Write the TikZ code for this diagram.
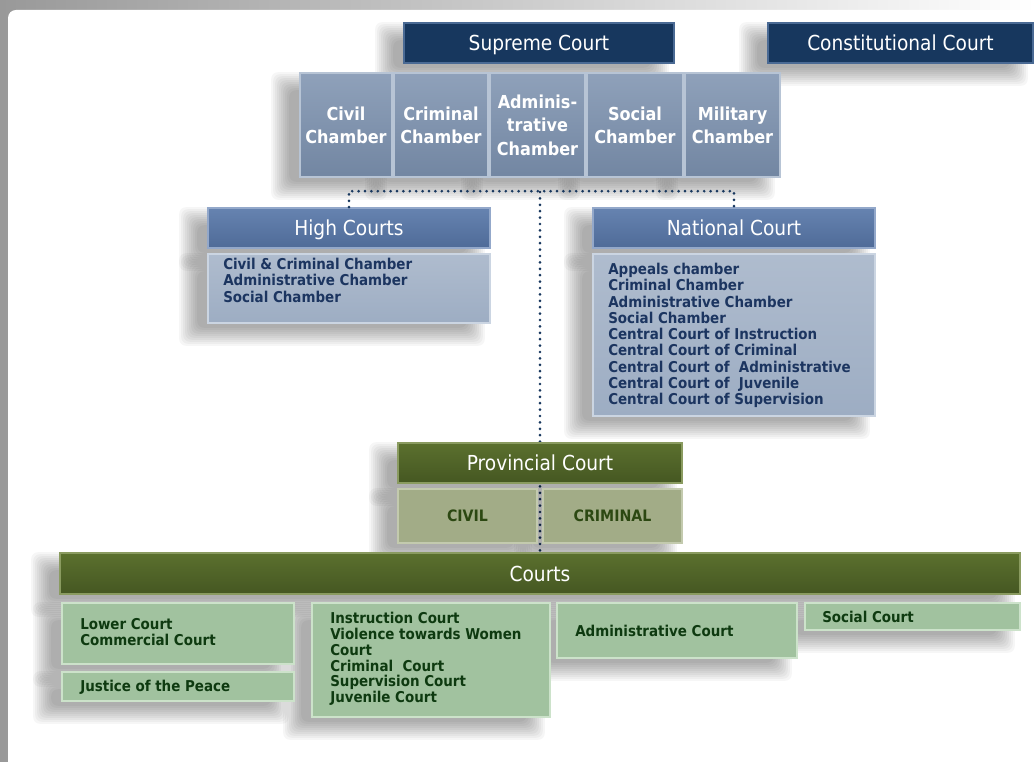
\documentclass[tikz,border=0pt]{standalone}
\usepackage{fontspec}
\setmainfont{DejaVu Sans Condensed}
\usetikzlibrary{calc}
\pgfdeclarelayer{pagebg}
\pgfdeclarelayer{shadow}
\pgfsetlayers{pagebg,shadow,main}
\definecolor{navy}{HTML}{17375E}
\definecolor{navyedge}{HTML}{4A6A94}
\definecolor{chtop}{HTML}{8FA1BA}
\definecolor{chbot}{HTML}{7286A2}
\definecolor{chedge}{HTML}{B7C4D5}
\definecolor{bhtop}{HTML}{6683B0}
\definecolor{bhbot}{HTML}{4F6B98}
\definecolor{bhedge}{HTML}{93A8CA}
\definecolor{bbtop}{HTML}{AFBCCE}
\definecolor{bbbot}{HTML}{9DADC3}
\definecolor{bbedge}{HTML}{CBD5E2}
\definecolor{bodynavy}{HTML}{1C3560}
\definecolor{olhtop}{HTML}{5B702E}
\definecolor{olhbot}{HTML}{455722}
\definecolor{olhedge}{HTML}{8A9B60}
\definecolor{olbody}{HTML}{A2AC87}
\definecolor{olbedge}{HTML}{C3CAAE}
\definecolor{oltext}{HTML}{2C4812}
\definecolor{grbody}{HTML}{A1C29F}
\definecolor{grbedge}{HTML}{CCE2CA}
\definecolor{grtext}{HTML}{0E3A10}
\tikzset{
  bx/.style args={#1/#2/#3/#4}{minimum width={(#3-#1)*0.75pt}, minimum height={(#4-#2)*0.75pt}, at={({(#1+#3)/2},{(#2+#4)/2})}},
  boxbase/.style={rectangle, inner sep=0pt, line width=1.2pt},
  topbox/.style={boxbase, fill=navy, draw=navyedge, text=white, text depth=0pt, font=\fontsize{15.5}{18}\selectfont},
  chamberbox/.style={boxbase, top color=chtop, bottom color=chbot, draw=chedge, text=white, align=center, text depth=0pt, font=\bfseries\fontsize{13.4}{17.5}\selectfont},
  bluehead/.style={boxbase, top color=bhtop, bottom color=bhbot, draw=bhedge, text=white, text depth=0pt, font=\fontsize{15.5}{18}\selectfont},
  bluebody/.style={boxbase, top color=bbtop, bottom color=bbbot, draw=bbedge},
  olivehead/.style={boxbase, top color=olhtop, bottom color=olhbot, draw=olhedge, text=white, text depth=0pt, font=\fontsize{15.5}{18}\selectfont},
  olivebody/.style={boxbase, fill=olbody, draw=olbedge, text=oltext, font=\bfseries\fontsize{11.8}{14}\selectfont},
  greenbody/.style={boxbase, fill=grbody, draw=grbedge},
  navytext/.style={anchor=north west, inner sep=0pt, align=left, text=bodynavy, font=\bfseries\fontsize{11.2}{12.2}\selectfont},
  greentext/.style={anchor=north west, inner sep=0pt, align=left, text=grtext, font=\bfseries\fontsize{11.2}{11.85}\selectfont},
  dots/.style={draw=navy, line width=2.2pt, line cap=round, dash pattern=on 0pt off 4.8pt}
}
\begin{document}
\begin{tikzpicture}[x=0.75pt,y=-0.75pt]
\useasboundingbox (0,0) rectangle (1035,762);
\begin{pgfonlayer}{pagebg}
\shade[left color=gray!80, right color=white] (0,0) rectangle (1035,762);
\fill[white, rounded corners=6pt] (8,10) rectangle (1060,790);
\end{pgfonlayer}

\coordinate (jn) at (540,192);
\coordinate (cb) at (540,553);

% top level
\node[topbox, bx=404/23/674/63] (sup) {Supreme Court};
\node[topbox, bx=768/23/1033/63] (con) {Constitutional Court};

% chambers
\node[chamberbox, bx=300/73/392/177] (c1) {Civil\\Chamber};
\node[chamberbox, bx=394/73/488/177] (c2) {Criminal\\Chamber};
\node[chamberbox, bx=490/73/585/177] (c3) {Adminis-\\trative\\Chamber};
\node[chamberbox, bx=587/73/683/177] (c4) {Social\\Chamber};
\node[chamberbox, bx=685/73/780/177] (c5) {Military\\Chamber};

% dotted trunk, behind the lower boxes
\begin{pgfonlayer}{shadow}
\draw[dots] (jn) -- (cb);
\end{pgfonlayer}

% high courts
\node[bluehead, bx=208/208/490/248] (hch) {High Courts};
\node[bluebody, bx=208/254/490/323] (hcb) {};
\node[navytext] (hct) at (223,258) {Civil \& Criminal Chamber\\Administrative Chamber\\Social Chamber};

% national court
\node[bluehead, bx=593/208/875/248] (nch) {National Court};
\node[bluebody, bx=593/254/875/416] (ncb) {};
\node[navytext] (nct) at (608,263) {Appeals chamber\\Criminal Chamber\\Administrative Chamber\\Social Chamber\\Central Court of Instruction\\Central Court of Criminal\\Central Court of\ \ Administrative\\Central Court of\ \ Juvenile\\Central Court of Supervision};

\draw[dots] (hch.north) -- ++(0,-16) -| (nch.north);

% provincial
\node[olivehead, bx=398/443/682/483] (pch) {Provincial Court};
\node[olivebody, bx=398/489/537/543] (civ) {CIVIL};
\node[olivebody, bx=543/489/682/543] (cri) {CRIMINAL};

% courts
\node[olivehead, bx=60/553/1020/594] (crt) {Courts};
\node[greenbody, bx=62/603/294/664] (g1) {};
\node[greentext] (g1t) at (80,618) {Lower Court\\Commercial Court};
\node[greenbody, bx=62/672/294/701] (g2) {};
\node[greentext, anchor=west] (g2t) at (80,687) {Justice of the Peace};
\node[greenbody, bx=312/603/550/717] (g3) {};
\node[greentext] (g3t) at (330,612) {Instruction Court\\Violence towards Women\\Court\\Criminal\ \ Court\\Supervision Court\\Juvenile Court};
\node[greenbody, bx=557/603/797/658] (g4) {};
\node[greentext, anchor=west] (g4t) at (575,631) {Administrative Court};
\node[greenbody, bx=805/603/1020/630] (g5) {};
\node[greentext, anchor=west] (g5t) at (822,617) {Social Court};

% soft shadows
\begin{pgfonlayer}{shadow}
\foreach \n in {sup,con,c1,c2,c3,c4,c5,hch,hcb,nch,ncb,pch,civ,cri,crt,g1,g2,g3,g4,g5}{
  \foreach \r in {0,2,...,18}{
    \fill[black, opacity=0.034, rounded corners=5pt]
      ($(\n.north west)+(-10-\r,18-\r)$) rectangle ($(\n.south east)+(-24+\r,4+\r)$);
  }
}
\end{pgfonlayer}
\end{tikzpicture}
\end{document}
